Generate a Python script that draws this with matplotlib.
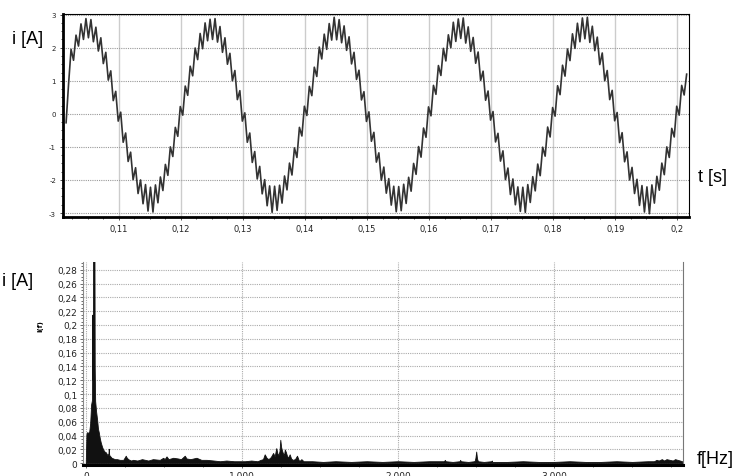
import matplotlib.pyplot as plt
from matplotlib.ticker import MultipleLocator, FuncFormatter
import numpy as np

# time trace, one sample every 0.4 ms starting at 0.1015 s
t_start = 0.1015
t_step = 0.0004
current_a = [
    -0.27, 0.90, 1.95, 1.62, 2.38, 2.05, 2.72, 2.25, 2.88, 2.30, 2.85, 2.18, 2.62, 1.90, 2.30, 1.52, 1.86, 1.02, 1.30, 0.40, 0.68, -0.22, 0.05, -0.86, -0.58,
    -1.44, -1.16, -1.99, -1.63, -2.41, -2.00, -2.72, -2.14, -2.94, -2.22, -2.97, -2.15, -2.69, -1.91, -2.32, -1.53, -1.86, -1.00, -1.29, -0.41, -0.68, 0.22, -0.04, 0.84, 0.56,
    1.44, 1.15, 1.99, 1.64, 2.43, 1.97, 2.75, 2.21, 2.86, 2.25, 2.88, 2.17, 2.64, 1.86, 2.30, 1.50, 1.83, 1.00, 1.31, 0.43, 0.70, -0.22, 0.03, -0.86, -0.58,
    -1.47, -1.14, -1.97, -1.59, -2.42, -1.99, -2.78, -2.18, -2.98, -2.19, -2.92, -2.16, -2.70, -1.88, -2.30, -1.49, -1.85, -1.03, -1.32, -0.41, -0.67, 0.23, -0.05, 0.83, 0.55,
    1.41, 1.13, 2.02, 1.66, 2.41, 1.95, 2.73, 2.23, 2.92, 2.24, 2.85, 2.15, 2.66, 1.92, 2.33, 1.51, 1.86, 1.04, 1.32, 0.42, 0.67, -0.23, 0.06, -0.83, -0.56,
    -1.46, -1.18, -2.01, -1.61, -2.40, -1.96, -2.76, -2.19, -2.96, -2.20, -2.93, -2.13, -2.71, -1.92, -2.34, -1.50, -1.83, -0.99, -1.31, -0.43, -0.71, 0.21, -0.06, 0.86, 0.59,
    1.46, 1.16, 1.98, 1.60, 2.39, 2.00, 2.77, 2.19, 2.87, 2.28, 2.90, 2.14, 2.63, 1.89, 2.31, 1.53, 1.87, 1.01, 1.29, 0.41, 0.69, -0.19, 0.07, -0.85, -0.59,
    -1.43, -1.12, -1.99, -1.64, -2.44, -1.97, -2.75, -2.21, -2.95, -2.22, -2.98, -2.14, -2.68, -1.90, -2.33, -1.52, -1.87, -1.01, -1.28, -0.40, -0.70, 0.19, -0.07, 0.85, 0.58,
    1.47, 1.14, 1.96, 1.61, 2.42, 1.98, 2.74, 2.18, 2.90, 2.27, 2.92, 2.16, 2.65, 1.91, 2.32, 1.49, 1.84, 1.00, 1.31, 0.43, 0.71, -0.21, 0.04, -0.87, -0.57,
    -1.45, -1.15, -2.00, -1.62, -2.41, -1.98, -2.77, -2.17, -2.97, -2.21, -3.02, -2.15, -2.70, -1.89, -2.31, -1.49, -1.84, -1.00, -1.32, -0.44, -0.70, 0.23, -0.04, 0.86, 0.57,
    1.20,
]

# amplitude spectrum (outline points)
freq_hz = [0, 4, 8, 15, 22, 28, 34, 40, 42, 45, 47, 51, 55, 57, 60, 66, 73, 78, 83, 90, 96, 104, 111, 120, 128, 138, 145, 147, 150,
           165, 186, 200, 218, 240, 256, 260, 271, 290, 303, 330, 360, 400, 430, 474, 496, 505, 517, 530, 560, 590, 610, 634, 645,
           670, 709, 740, 774, 820, 860, 900, 950, 987, 1020, 1060, 1100, 1120, 1135, 1146, 1158, 1170, 1185, 1200, 1210, 1220,
           1228, 1235, 1241, 1246, 1251, 1255, 1262, 1270, 1275, 1282, 1290, 1298, 1306, 1315, 1325, 1340, 1353, 1365, 1372, 1381,
           1395, 1450, 1520, 1600, 1700, 1800, 1900, 2000, 2100, 2200, 2295, 2300, 2305, 2350, 2395, 2398, 2402, 2450, 2488,
           2492, 2496, 2501, 2506, 2512, 2550, 2598, 2601, 2604, 2700, 2800, 2900, 3000, 3100, 3200, 3300, 3400, 3500, 3600,
           3640, 3656, 3670, 3690, 3705, 3720, 3740, 3760, 3775, 3790, 3806, 3820]
amp = [0.003, 0.042, 0.045, 0.044, 0.046, 0.058, 0.085, 0.092, 0.215, 0.12, 0.35, 0.40, 0.35, 0.14, 0.09, 0.075, 0.062, 0.050, 0.045, 0.036, 0.030, 0.024, 0.020, 0.017, 0.016, 0.012, 0.014, 0.021, 0.012,
       0.008, 0.006, 0.006, 0.005, 0.005, 0.011, 0.009, 0.006, 0.004, 0.005, 0.004, 0.006, 0.004, 0.006, 0.005, 0.008, 0.006, 0.010, 0.006, 0.008, 0.007, 0.006, 0.011, 0.007,
       0.006, 0.008, 0.005, 0.005, 0.004, 0.003, 0.004, 0.003, 0.003, 0.003, 0.004, 0.003, 0.005, 0.006, 0.013, 0.008, 0.006, 0.009, 0.015, 0.010, 0.022,
       0.014, 0.012, 0.018, 0.034, 0.024, 0.020, 0.015, 0.012, 0.020, 0.016, 0.010, 0.009, 0.013, 0.007, 0.005, 0.006, 0.011, 0.004, 0.004, 0.006,
       0.003, 0.003, 0.002, 0.003, 0.002, 0.003, 0.002, 0.003, 0.002, 0.003, 0.003, 0.005, 0.003, 0.002, 0.003, 0.005, 0.003, 0.002, 0.003,
       0.004, 0.008, 0.017, 0.007, 0.003, 0.002, 0.003, 0.004, 0.002, 0.002, 0.003, 0.002, 0.002, 0.003, 0.002, 0.002, 0.003, 0.002, 0.003,
       0.003, 0.005, 0.004, 0.006, 0.004, 0.006, 0.005, 0.004, 0.006, 0.005, 0.004, 0.003]


def comma(v, pos):
    s = ('%.2f' % v).rstrip('0').rstrip('.')
    return s.replace('.', ',')


def thousands(v, pos):
    return '{:,.0f}'.format(v).replace(',', '.')


fig = plt.figure(figsize=(7.41, 4.77), dpi=100)

# --- time domain ---
ax1 = fig.add_axes([0.085, 0.543, 0.845, 0.4256])
t = t_start + t_step * np.arange(len(current_a))
ax1.plot(t, current_a, color='#333333', lw=1.2)
ax1.set_xlim(0.1010, 0.2019)
ax1.set_ylim(-3.12, 3.02)
ax1.xaxis.set_major_locator(MultipleLocator(0.01))
ax1.xaxis.set_minor_locator(MultipleLocator(0.0025))
ax1.yaxis.set_major_locator(MultipleLocator(1))
ax1.yaxis.set_minor_locator(MultipleLocator(0.25))
ax1.xaxis.set_major_formatter(FuncFormatter(comma))
ax1.yaxis.set_major_formatter(FuncFormatter(comma))
ax1.grid(axis='x', which='major', color='#cccccc', lw=1, ls='-')
ax1.grid(axis='y', which='major', color='#999999', lw=0.8, ls=(0, (1, 1)))
ax1.set_axisbelow(True)
ax1.tick_params(which='both', labelsize=5, color='#333333', labelcolor='#222222', length=2, width=0.6, pad=3)
ax1.tick_params(axis='x', labelsize=6)
ax1.tick_params(which='minor', length=1.5)
for s in ['left', 'bottom']:
    ax1.spines[s].set_linewidth(2)
for s in ['top', 'right']:
    ax1.spines[s].set_linewidth(0.8)

# --- spectrum ---
ax2 = fig.add_axes([0.112, 0.023, 0.81, 0.4255])
ax2.fill_between(freq_hz, amp, color='#111111', lw=0.6, edgecolor='#111111')
ax2.set_xlim(-18, 3827)
ax2.set_ylim(-0.0025, 0.291)
ax2.xaxis.set_major_locator(MultipleLocator(1000))
ax2.xaxis.set_minor_locator(MultipleLocator(250))
ax2.yaxis.set_major_locator(MultipleLocator(0.02))
ax2.yaxis.set_minor_locator(MultipleLocator(0.005))
ax2.xaxis.set_major_formatter(FuncFormatter(thousands))
ax2.yaxis.set_major_formatter(FuncFormatter(comma))
ax2.grid(which='major', color='#aaaaaa', lw=0.8, ls=(0, (1, 1)))
ax2.set_axisbelow(True)
ax2.tick_params(which='both', labelsize=6.5, color='#555555', labelcolor='#222222', length=2, width=0.6, pad=2)
ax2.tick_params(which='minor', length=1.5)
ax2.spines['top'].set_visible(False)
ax2.spines['left'].set_color('#888888')
ax2.spines['right'].set_color('#777777')
ax2.spines['bottom'].set_linewidth(2.2)
ax2.set_ylabel('i(f)', fontsize=5, fontweight='bold')
ax2.yaxis.set_label_coords(-0.066, 0.69)

font = dict(family='Liberation Sans', fontsize=13, color='black')
fig.text(28 / 741, 1 - 40 / 477, 'i [A]', ha='center', va='center', **font)
fig.text(713 / 741, 1 - 178 / 477, 't [s]', ha='center', va='center', **font)
fig.text(18 / 741, 1 - 282 / 477, 'i [A]', ha='center', va='center', **font)
fig.text(715 / 741, 1 - 460 / 477, 'f[Hz]', ha='center', va='center', **font)

fig.savefig('out.png', dpi=100)
